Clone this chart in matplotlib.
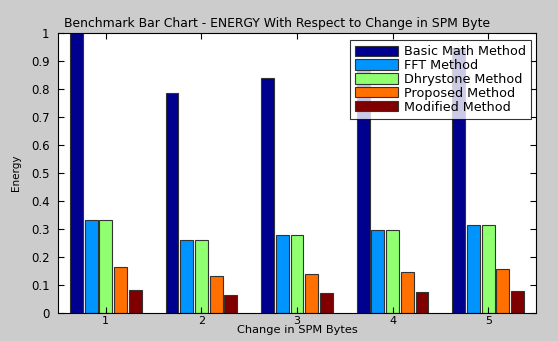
import matplotlib
matplotlib.use("Agg")
import matplotlib.pyplot as plt
import numpy as np

categories = [1, 2, 3, 4, 5]
series_names = ["Basic Math Method", "FFT Method", "Dhrystone Method",
                "Proposed Method", "Modified Method"]
basic_math = [1.000, 0.785, 0.838, 0.890, 0.945]
fft = [0.332, 0.262, 0.279, 0.297, 0.315]
dhrystone = [0.332, 0.262, 0.279, 0.297, 0.315]
proposed = [0.166, 0.131, 0.140, 0.148, 0.157]
modified = [0.083, 0.065, 0.070, 0.074, 0.079]
yticks = [0, 0.1, 0.2, 0.3, 0.4, 0.5, 0.6, 0.7, 0.8, 0.9, 1]

colors = ["#00008F", "#0094FF", "#90FF70", "#FF7000", "#800000"]

plt.rcParams['font.family'] = ['DejaVu Sans']

fig = plt.figure(figsize=(5.58, 3.41), dpi=100, facecolor="#CCCCCC")
ax = fig.add_axes([58/558, 1-313/341, (536-58)/558, (313-33)/341])
ax.set_facecolor("white")

x = np.array(categories, dtype=float)
step = 0.154
width = 0.135
data = [basic_math, fft, dhrystone, proposed, modified]
for i, (vals, name, c) in enumerate(zip(data, series_names, colors)):
    ax.bar(x + (i - 2) * step, vals, width=width, color=c, edgecolor="#333333",
           linewidth=0.8, label=name)

ax.set_xlim(0.5, 5.5)
ax.set_ylim(0, 1)
ax.set_xticks(categories)
ax.set_xticklabels([str(c) for c in categories])
ax.set_yticks(yticks)
ax.set_yticklabels(["0", "0.1", "0.2", "0.3", "0.4", "0.5", "0.6", "0.7", "0.8", "0.9", "1"])
ax.tick_params(direction="in", length=4, width=0.8, top=True, right=True,
               labelsize=8.5)
ax.tick_params(axis="y", pad=6)
ax.tick_params(axis="x", pad=2, labelsize=8)
for s in ax.spines.values():
    s.set_linewidth(0.8)

ax.set_title("Benchmark Bar Chart - ENERGY With Respect to Change in SPM Byte",
             fontsize=8.9, pad=4, x=0.458)
ax.set_xlabel("Change in SPM Bytes", fontsize=8.2, labelpad=-0.5)
ax.set_ylabel("Energy", fontsize=7.5, labelpad=7)

leg = ax.legend(loc="upper right", bbox_to_anchor=(0.9895, 0.975),
                fontsize=9.2, frameon=True, fancybox=False, shadow=False,
                handlelength=3.4, handleheight=0.85, handletextpad=0.45,
                labelspacing=0.07, borderpad=0.4, borderaxespad=0)
leg.get_frame().set_edgecolor("black")
leg.get_frame().set_linewidth(0.8)

fig.savefig("out.png", dpi=100, facecolor=fig.get_facecolor())
